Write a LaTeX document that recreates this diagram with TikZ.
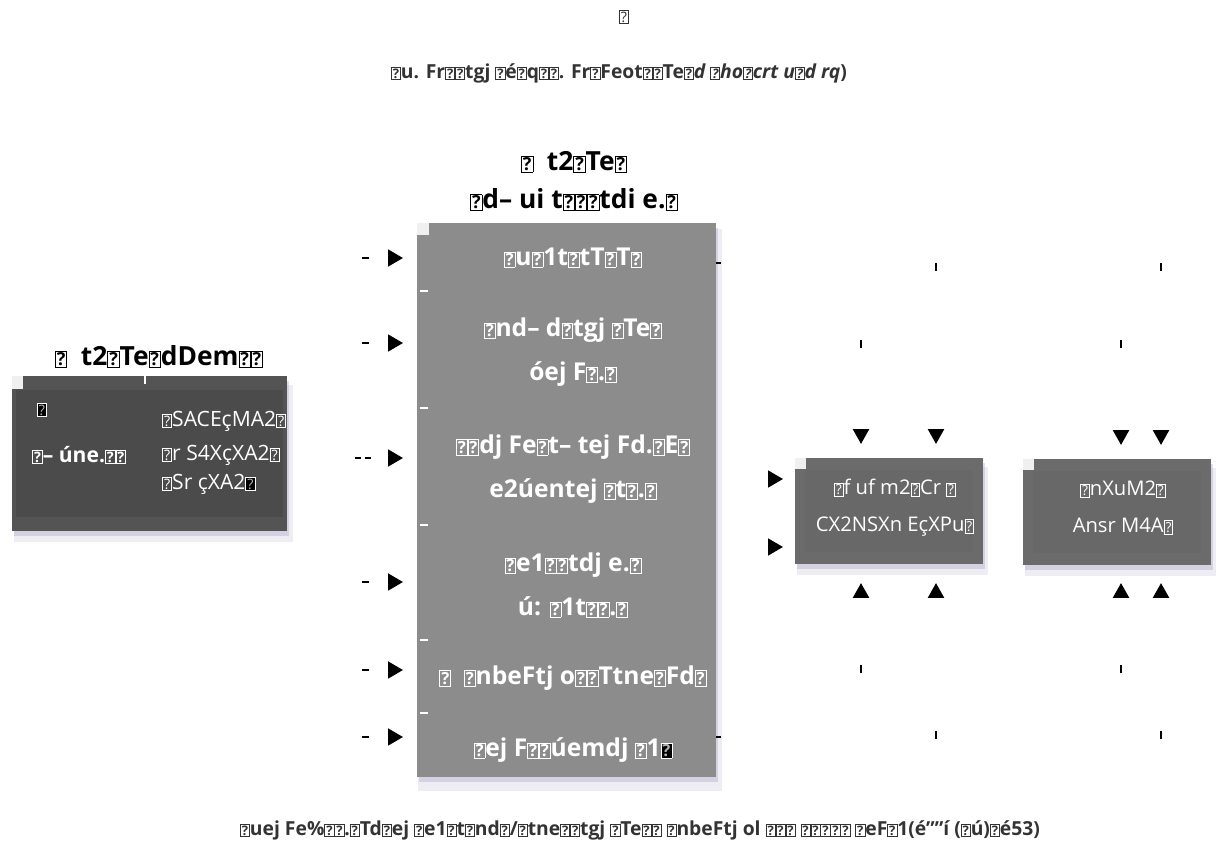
\documentclass[tikz,border=0pt]{standalone}
\usepackage{fontspec}
\setmainfont{Open Sans}
\usepackage{xcolor}
\usetikzlibrary{arrows.meta, positioning, calc, shadows}
\definecolor{panelmid}{HTML}{8C8C8C}
\definecolor{paneldark}{HTML}{545454}
\definecolor{paneldarkin}{HTML}{4B4B4B}
\definecolor{panelout}{HTML}{6B6B6B}
\definecolor{paneloutin}{HTML}{686868}
\definecolor{shadowblue}{RGB}{110,110,160}
\definecolor{capgray}{HTML}{333333}
% missing-glyph boxes
\newcommand{\qb}{{\setlength{\fboxsep}{0.6pt}\setlength{\fboxrule}{0.45pt}\fbox{\scalebox{0.68}{?}}}}
\newcommand{\qk}{{\setlength{\fboxsep}{0.6pt}\setlength{\fboxrule}{0.45pt}\fcolorbox{white}{black}{\scalebox{0.68}{\color{gray!60}?}}}}

\begin{document}
\begin{tikzpicture}[x=0.02cm, y=-0.02cm,
    panel/.style={inner sep=0pt, outer sep=0pt,
        drop shadow={fill=shadowblue, opacity=0.12, shadow xshift=2pt, shadow yshift=-5.5pt, shadow scale=1.015},
        drop shadow={fill=shadowblue, opacity=0.22, shadow xshift=1pt, shadow yshift=-3pt}},
    corner/.style={fill=black!6},
    titletext/.style={font=\fontsize{15}{18}\selectfont\bfseries, text=black},
    rowtext/.style={font=\fontsize{14}{25}\selectfont\bfseries, text=white, align=center},
    celltext/.style={font=\fontsize{12}{14}\selectfont, text=white, anchor=west, inner sep=0pt},
    outtext/.style={font=\fontsize{11.5}{21}\selectfont, text=white, align=center},
    captext/.style={font=\fontsize{11}{14}\selectfont\bfseries, text=capgray},
    sepmark/.style={white, line width=1pt},
    feed/.style={line width=1.3pt, -{Triangle[length=8.5pt,width=9.5pt]},
        dash pattern=on 4pt off 2000pt, shorten >=0.28cm},
    drop/.style={line width=1.6pt, -{Triangle[length=8.5pt,width=9pt]},
        dash pattern=on 4.5pt off 2000pt}
]
    \useasboundingbox (0,0) rectangle (1226,845);

    % Heading
    \node[text=capgray, font=\fontsize{12}{14}\selectfont] (topmark) at (624,17) {\qb};
    \node[captext] (subtitle) at (619,73)
        {\qb u. Fr\qb\qb tgj \qb é\qb q\qb\qb. Fr\qb Feot\qb\qb Te\qb\textit{d \qb ho\qb crt u\qb d rq})};

    % Left panel
    \node[titletext] (ingesttitle) at (159,357) {\qb\ \ t2\qb Te\qb dDem\qb\qb};
    \node[panel, fill=paneldark, minimum width=5.5cm, minimum height=3.1cm] (ingest) at (149.5,453.5) {};
    \fill[paneldarkin] ([shift={(4,14)}]ingest.north west) rectangle ([shift={(-4,-14)}]ingest.south east);
    \fill[corner] (ingest.north west) rectangle ++(11,13);
    \draw[sepmark] (145,376) -- (145,384);
    \node[font=\fontsize{12}{14}\selectfont] (ingestmark) at (42,410) {\qk};
    \node[celltext, font=\fontsize{12}{14}\selectfont\bfseries] (ingestname) at (32,455) {\qb– úne.\qb\qb};
    \node[celltext] (cellA) at (162,421) {\qb SACEçMA2\qb};
    \node[celltext] (cellB) at (162,455) {\qb r S4XçXA2\qb};
    \node[celltext] (cellC) at (162,484) {\qb Sr çXA2\qk};

    % Middle panel
    \node[titletext] (stacktitle) at (574,162) {\qb\ \ t2\qb Te\qb};
    \node[titletext] (stacksub) at (574,200) {\qb d– ui t\qb\qb\qb tdi e.\qb};
    \node[panel, fill=panelmid, minimum width=5.98cm, minimum height=11.08cm] (stack) at (566.5,500) {};
    \fill[corner] (stack.north west) rectangle ++(12,12);
    \foreach \y in {291,408,525,640,713}
        \draw[sepmark] (420,\y) -- ++(8,0);
    \node[rowtext] (r1) at (573,258) {\qb u\qb 1t\qb tT\qb T\qb};
    \node[rowtext] (r2) at (573,352.5) {\qb nd– d\qb tgj \qb Te\qb\\óej F\qb.\qb};
    \node[rowtext] (r3) at (573,469) {\qb\qb dj Fe\qb t– tej Fd.\qb E\qb\\e2úentej \qb t\qb.\qb};
    \node[rowtext] (r4) at (573,585.5) {\qb e1\qb\qb tdj e.\qb\\ú: \qb 1t\qb\qb.\qb};
    \node[rowtext] (r5) at (573,678) {\qb\ \ \qb nbeFtj o\qb\qb Ttne\qb Fd\qb};
    \node[rowtext] (r6) at (573,750) {\qb ej F\qb\qb úemdj \qb 1\qk};

    % Inputs into the middle panel
    \foreach \n/\y in {1/258,2/343,4/582,5/670,6/737}
        \coordinate (in\n) at (362,\y);
    \coordinate (in3) at (355,458);
    \foreach \n in {1,2,4,5,6}
        \draw[feed] (in\n) -- (in\n -| stack.west);
    \draw[feed, dash pattern=on 3.5pt off 2pt on 3.5pt off 2000pt] (in3) -- (in3 -| stack.west);

    % Right panels
    \node[panel, fill=panelout, minimum width=3.76cm, minimum height=2.12cm] (merge) at (889,511) {};
    \fill[paneloutin] ([shift={(10,12)}]merge.north west) rectangle ([shift={(-10,-12)}]merge.south east);
    \fill[corner] (merge.north west) rectangle ++(11,11);
    \node[outtext] (mergelabel) at (895,507.5) {\qb f uf m2\qb Cr \qb\\CX2NSXn EçXPu\qb};
    \node[panel, fill=panelout, minimum width=3.76cm, minimum height=2.12cm] (store) at (1117,512) {};
    \fill[paneloutin] ([shift={(10,12)}]store.north west) rectangle ([shift={(-10,-12)}]store.south east);
    \fill[corner] (store.north west) rectangle ++(11,11);
    \node[outtext] (storelabel) at (1123,507.5) {\qb nXuM2\qb\\Ansr M4A\qb};

    % Middle panel to merge
    \coordinate (out1) at (716,263);
    \coordinate (out6) at (716,737);
    \draw[feed, dash pattern=on 3pt off 2000pt, shorten >=0.24cm]
        (out1) -- ++(40,0) |- ([yshift=0.64cm]merge.west);
    \draw[feed, dash pattern=on 3pt off 2000pt, shorten >=0.24cm]
        (out6) -- ++(40,0) |- ([yshift=-0.72cm]merge.west);

    % Drops from above and below
    \coordinate (topa) at (861,340);
    \coordinate (topb) at (936,263);
    \coordinate (topc) at (1121,340);
    \coordinate (topd) at (1161,263);
    \coordinate (bota) at (861,673);
    \coordinate (botb) at (936,739);
    \coordinate (botc) at (1121,673);
    \coordinate (botd) at (1161,739);
    \draw[drop, shorten >=0.28cm] (topa) -- (topa |- merge.north);
    \draw[drop, shorten >=0.28cm] (topb) -- (topb |- merge.north);
    \draw[drop, shorten >=0.28cm] (topc) -- (topc |- store.north);
    \draw[drop, shorten >=0.28cm] (topd) -- (topd |- store.north);
    \draw[drop, shorten >=0.38cm] (bota) -- (bota |- merge.south);
    \draw[drop, shorten >=0.38cm] (botb) -- (botb |- merge.south);
    \draw[drop, shorten >=0.36cm] (botc) -- (botc |- store.south);
    \draw[drop, shorten >=0.36cm] (botd) -- (botd |- store.south);

    % Caption
    \node[captext] (caption) at (640,830)
        {\qb uej Fe\%\qb\qb.\qb Td\qb ej \qb e1\qb t\qb nd\qb/\qb tne\qb\qb tgj \qb Te\qb\qb\ \qb nbeFtj ol \qb\qb\qb\ \qb\qb\qb\qb\qb\ \qb eF\qb 1(é””í (\qb ú)\qb é53)};
\end{tikzpicture}
\end{document}
